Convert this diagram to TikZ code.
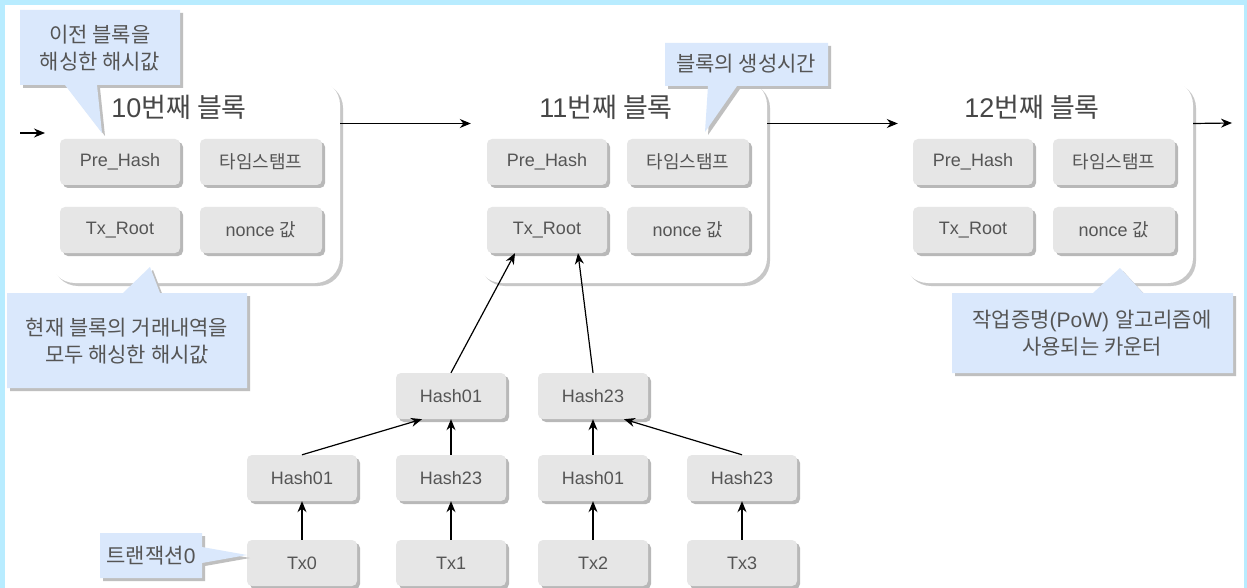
\documentclass[tikz,border=0pt]{standalone}
\usepackage{fontspec}
\setmainfont{Liberation Sans}
\newfontfamily\kr{Noto Sans CJK KR}
\usetikzlibrary{arrows.meta,shadows,positioning}
\definecolor{frame}{RGB}{184,236,255}
\definecolor{notebg}{RGB}{218,232,252}
\definecolor{cellbg}{RGB}{230,230,230}
\definecolor{txt}{RGB}{85,85,85}

\begin{document}
\begin{tikzpicture}[x=1pt,y=-1pt,
  blk/.style={rectangle,rounded corners=25pt,fill=white,minimum width=290pt,minimum height=203pt,
    drop shadow={shadow xshift=3pt,shadow yshift=-3pt,fill=black!22,opacity=1}},
  cell/.style={rectangle,rounded corners=5pt,fill=cellbg,text=txt,minimum width=120pt,minimum height=46pt,
    font=\fontsize{18}{20}\selectfont,
    drop shadow={shadow xshift=3pt,shadow yshift=-3pt,fill=black!28,opacity=1}},
  hnode/.style={cell,minimum width=110pt},
  ttl/.style={text=black!72,font=\fontsize{27}{30}\selectfont},
  note/.style={text=txt,align=center,font=\fontsize{21}{27}\selectfont},
  notebox/.style={fill=notebg,drop shadow={shadow xshift=3pt,shadow yshift=-3pt,fill=black!25,opacity=1}},
  arr/.style={-{Stealth[length=11pt,width=9pt]},line width=1.2pt}
]
\fill[frame] (0,0) rectangle (1247,588);
\fill[white] (5,5) rectangle (1244,588);
\useasboundingbox (0,0) rectangle (1247,588);

\foreach \n/\L in {10/50,11/477,12/903}{
  \node[blk] (b\n) at (\L+145,181.5) {};
  \node[ttl] (t\n) at (\L+129,107) {\n{\kr 번째 블록}};
  \node[cell] (ph\n) at (\L+70,162) {Pre\_Hash};
  \node[cell,minimum width=122pt] (ts\n) at (\L+211,162) {\kr 타임스탬프};
  \node[cell] (tr\n) at (\L+70,230) {Tx\_Root};
  \node[cell,minimum width=122pt] (nc\n) at (\L+211,230) {nonce {\kr 값}};
}

\coordinate (in) at (20,133);
\coordinate (in2) at (45,133);
\coordinate (out) at (1232,123);
\draw[arr] (in) -- (in2);
\draw[arr,shorten >=6pt] ([yshift=58pt]b10.east) -- ([yshift=58pt]b11.west);
\draw[arr,shorten >=5pt] ([yshift=58pt]b11.east) -- ([yshift=58pt]b12.west);
\draw[arr] ([yshift=58pt]b12.east) -- (out);

\node[hnode] (h01) at (451,396) {Hash01};
\node[hnode] (h23) at (593,396) {Hash23};
\foreach \i/\x/\h in {0/302/01,1/451/23,2/593/01,3/742/23}{
  \node[hnode] (a\i) at (\x,478) {Hash\h};
  \node[hnode] (tx\i) at (\x,563) {Tx\i};
  \draw[arr] (tx\i) -- (a\i);
}
\draw[arr] (a0.north) -- ([xshift=-29pt]h01.south);
\draw[arr] (a1) -- (h01);
\draw[arr] (a2) -- (h23);
\draw[arr] (a3.north) -- ([xshift=31pt]h23.south);
\draw[arr] (h01.north) -- ([xshift=-32pt]tr11.south);
\draw[arr] (h23.north) -- ([xshift=31pt]tr11.south);

\fill[notebox] (20,10) -- (180,10) -- (180,85) -- (97,85) -- (102,133) -- (65,85) -- (20,85) -- cycle;
\fill[notebox] (665,43) -- (828,43) -- (828,86) -- (737,86) -- (705,132) -- (708,86) -- (665,86) -- cycle;
\fill[notebox] (7,293) -- (123,293) -- (150,267) -- (160,293) -- (247,293) -- (247,388) -- (7,388) -- cycle;
\fill[notebox] (952,293) -- (1093,293) -- (1120,268) -- (1143,293) -- (1233,293) -- (1233,373) -- (952,373) -- cycle;
\fill[notebox] (100,533) -- (202,533) -- (202,547) -- (247,555) -- (202,563) -- (202,578) -- (100,578) -- cycle;

\node[note] (n1) at (100,48) {\kr 이전 블록을\\\kr 해싱한 해시값};
\node[note] (n2) at (746,64) {\kr 블록의 생성시간};
\node[note] (n3) at (127,341) {\kr 현재 블록의 거래내역을\\\kr 모두 해싱한 해시값};
\node[note] (n4) at (1092,333) {{\kr 작업증명}(PoW) {\kr 알고리즘에}\\\kr 사용되는 카운터};
\node[note] (n5) at (151,556) {{\kr 트랜잭션}0};
\end{tikzpicture}
\end{document}
